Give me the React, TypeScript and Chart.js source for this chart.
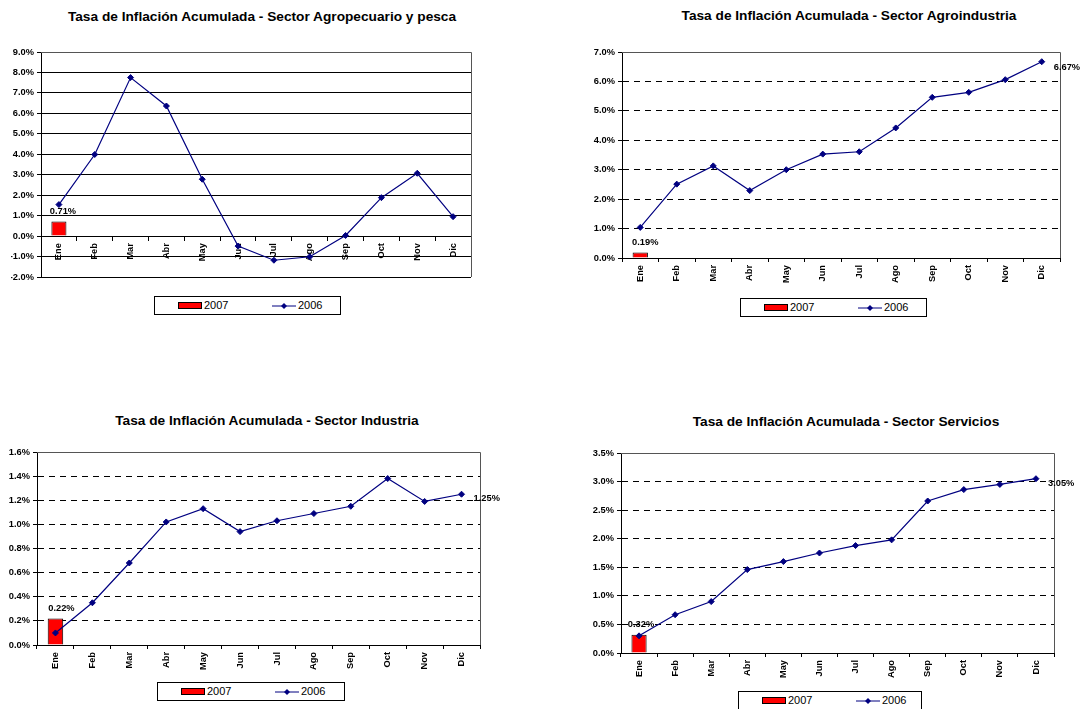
import React, { useEffect, useRef } from "react";
import { Chart, registerables } from "chart.js";

Chart.register(...registerables);

// ---------- data ----------
const months = ["Ene", "Feb", "Mar", "Abr", "May", "Jun", "Jul", "Ago", "Sep", "Oct", "Nov", "Dic"];
const seriesNames = ["2007", "2006"];

const agroTitle = "Tasa de Inflación Acumulada - Sector Agropecuario y pesca";
const agro2006 = [1.54, 3.99, 7.75, 6.36, 2.78, -0.49, -1.18, -1.01, 0.03, 1.88, 3.07, 0.95];
const agro2007 = [0.71];
const agroTicks = { min: -2, max: 9, step: 1 };

const agroindTitle = "Tasa de Inflación Acumulada - Sector Agroindustria";
const agroind2006 = [1.04, 2.51, 3.13, 2.29, 3.0, 3.53, 3.61, 4.42, 5.46, 5.63, 6.06, 6.67];
const agroind2007 = [0.19];
const agroindTicks = { min: 0, max: 7, step: 1 };

const indTitle = "Tasa de Inflación Acumulada - Sector Industria";
const ind2006 = [0.1, 0.35, 0.68, 1.02, 1.13, 0.94, 1.03, 1.09, 1.15, 1.38, 1.19, 1.25];
const ind2007 = [0.22];
const indTicks = { min: 0, max: 1.6, step: 0.2 };

const servTitle = "Tasa de Inflación Acumulada - Sector Servicios";
const serv2006 = [0.3, 0.67, 0.9, 1.46, 1.6, 1.75, 1.88, 1.98, 2.66, 2.86, 2.95, 3.05];
const serv2007 = [0.32];
const servTicks = { min: 0, max: 3.5, step: 0.5 };

// ---------- layout / style ----------
const FONT = "'Liberation Sans', Arial, Helvetica, sans-serif";
const NAVY = "#000080";
const RED = "#FF0000";

type Rect = { left: number; top: number; width: number; height: number };
type Area = { left: number; top: number; right: number; bottom: number };
type PanelCfg = {
  title: string;
  s2006: number[];
  s2007: number[];
  ticks: { min: number; max: number; step: number };
  zeroAxis: boolean;
  dashed: boolean;
  showLast: boolean;
  barDx: number;
  lastDx: number;
  lastDy: number;
  canvas: Rect;
  area: Area;
  titleX: number;
  titleTop: number;
  legend: Rect;
};

const panels: PanelCfg[] = [
  {
    title: agroTitle, s2006: agro2006, s2007: agro2007, ticks: agroTicks,
    zeroAxis: true, dashed: false, showLast: false, barDx: 4, lastDx: 0, lastDy: 0,
    canvas: { left: 0, top: 30, width: 540, height: 262 },
    area: { left: 41, top: 52, right: 471, bottom: 277 },
    titleX: 262, titleTop: 9,
    legend: { left: 154, top: 296, width: 187, height: 19 },
  },
  {
    title: agroindTitle, s2006: agroind2006, s2007: agroind2007, ticks: agroindTicks,
    zeroAxis: false, dashed: true, showLast: true, barDx: 5, lastDx: 12, lastDy: 6,
    canvas: { left: 560, top: 30, width: 521, height: 262 },
    area: { left: 622, top: 52, right: 1060, bottom: 258 },
    titleX: 849, titleTop: 8,
    legend: { left: 740, top: 298, width: 187, height: 19 },
  },
  {
    title: indTitle, s2006: ind2006, s2007: ind2007, ticks: indTicks,
    zeroAxis: false, dashed: true, showLast: true, barDx: 6, lastDx: 12, lastDy: 4,
    canvas: { left: 0, top: 430, width: 540, height: 250 },
    area: { left: 37, top: 452, right: 480, bottom: 645 },
    titleX: 267, titleTop: 413,
    legend: { left: 157, top: 682, width: 188, height: 19 },
  },
  {
    title: servTitle, s2006: serv2006, s2007: serv2007, ticks: servTicks,
    zeroAxis: false, dashed: true, showLast: true, barDx: 2, lastDx: 12, lastDy: 5,
    canvas: { left: 560, top: 430, width: 521, height: 258 },
    area: { left: 621, top: 453, right: 1054, bottom: 653 },
    titleX: 846, titleTop: 414,
    legend: { left: 738, top: 691, width: 184, height: 19 },
  },
];

const Y_W = 30;
const X_H = 32;

const labelPlugin = {
  id: "valueLabels",
  afterDatasetsDraw(chart: any, _args: any, opts: any) {
    const ctx = chart.ctx as CanvasRenderingContext2D;
    const a = chart.chartArea;
    ctx.save();
    // plot-area frame (top & right)
    ctx.strokeStyle = "#555";
    ctx.lineWidth = 1;
    ctx.setLineDash([]);
    ctx.beginPath();
    ctx.moveTo(a.left, Math.round(a.top) + 0.5);
    ctx.lineTo(Math.round(a.right) + 0.5, Math.round(a.top) + 0.5);
    ctx.lineTo(Math.round(a.right) + 0.5, a.bottom);
    ctx.stroke();

    ctx.font = `bold 9.3px ${FONT}`;
    ctx.fillStyle = "#000";
    const barMeta = chart.getDatasetMeta(1);
    const barVals = chart.data.datasets[1].data;
    barMeta.data.forEach((el: any, i: number) => {
      const v = barVals[i];
      if (v === null || v === undefined) return;
      ctx.textAlign = "center";
      ctx.textBaseline = "middle";
      ctx.fillText(Number(v).toFixed(2) + "%", el.x + opts.barDx, el.y - 10);
    });
    if (opts.showLast) {
      const lm = chart.getDatasetMeta(0);
      const vals = chart.data.datasets[0].data;
      const i = vals.length - 1;
      const p = lm.data[i];
      ctx.textAlign = "left";
      ctx.textBaseline = "middle";
      ctx.fillText(Number(vals[i]).toFixed(2) + "%", p.x + opts.lastDx, p.y + opts.lastDy);
    }
    ctx.restore();
  },
};

function ChartPanel({ cfg }: { cfg: PanelCfg }) {
  const ref = useRef<HTMLCanvasElement>(null);
  useEffect(() => {
    const c = cfg.canvas;
    const a = cfg.area;
    const padding = {
      left: a.left - c.left - Y_W,
      top: a.top - c.top,
      right: c.left + c.width - a.right,
      bottom: c.top + c.height - a.bottom - (cfg.zeroAxis ? 0 : X_H),
    };
    const barData = months.map((_, i) => (i < cfg.s2007.length ? cfg.s2007[i] : null));
    const tickFont = { family: FONT, size: 9.3, weight: "bold" as const };
    const chart = new Chart(ref.current as HTMLCanvasElement, {
      type: "bar",
      data: {
        labels: months,
        datasets: [
          {
            type: "line" as const,
            label: seriesNames[1],
            data: cfg.s2006,
            borderColor: NAVY,
            backgroundColor: NAVY,
            borderWidth: 1.2,
            pointStyle: "rectRot",
            pointRadius: 3,
            pointBackgroundColor: NAVY,
            pointBorderColor: NAVY,
            pointBorderWidth: 1,
            tension: 0,
            order: 0,
          } as any,
          {
            type: "bar" as const,
            label: seriesNames[0],
            data: barData,
            backgroundColor: RED,
            borderColor: "#000",
            borderWidth: 1,
            barPercentage: 0.42,
            categoryPercentage: 1,
            order: 1,
          } as any,
        ],
      },
      options: {
        responsive: false,
        animation: false,
        events: [],
        layout: { padding },
        plugins: {
          legend: { display: false },
          title: { display: false },
          tooltip: { enabled: false },
          valueLabels: {
            barDx: cfg.barDx,
            showLast: cfg.showLast,
            lastDx: cfg.lastDx,
            lastDy: cfg.lastDy,
          },
        } as any,
        scales: {
          x: {
            position: (cfg.zeroAxis ? { y: 0 } : "bottom") as any,
            offset: true,
            grid: {
              offset: true,
              drawOnChartArea: false,
              drawTicks: true,
              tickLength: 4,
              color: "#000",
              tickColor: "#000",
            },
            border: { color: "#000", width: 1 },
            ticks: {
              minRotation: 90,
              maxRotation: 90,
              autoSkip: false,
              color: "#000",
              font: tickFont,
              padding: 3,
            },
            afterFit: (s: any) => {
              s.height = X_H;
            },
          } as any,
          y: {
            min: cfg.ticks.min,
            max: cfg.ticks.max,
            ticks: {
              stepSize: cfg.ticks.step,
              color: "#000",
              font: tickFont,
              padding: 3,
              callback: (v: any) => Number(v).toFixed(1) + "%",
            },
            grid: {
              color: "#000",
              lineWidth: 1,
              drawTicks: true,
              tickLength: 4,
              tickColor: "#000",
            },
            border: { color: "#000", width: 1, dash: cfg.dashed ? [6, 5] : [] },
            afterFit: (s: any) => {
              s.width = Y_W;
            },
          } as any,
        },
      },
      plugins: [labelPlugin],
    });
    return () => chart.destroy();
  }, [cfg]);

  const c = cfg.canvas;
  return (
    <canvas
      ref={ref}
      width={c.width}
      height={c.height}
      style={{ position: "absolute", left: c.left, top: c.top, width: c.width, height: c.height }}
    />
  );
}

function Legend({ r }: { r: Rect }) {
  const inner = r.height - 2;
  return (
    <div
      style={{
        position: "absolute",
        left: r.left,
        top: r.top,
        width: r.width,
        height: r.height,
        boxSizing: "border-box",
        border: "1px solid #000",
        background: "#fff",
        font: `11px ${FONT}`,
        color: "#000",
      }}
    >
      <div
        style={{
          position: "absolute",
          left: 23,
          top: Math.round(inner / 2 - 3.5),
          width: 24,
          height: 7,
          boxSizing: "border-box",
          background: RED,
          border: "1px solid #000",
        }}
      />
      <span style={{ position: "absolute", left: 49, top: 0, lineHeight: `${inner}px` }}>{seriesNames[0]}</span>
      <svg
        width={24}
        height={8}
        style={{ position: "absolute", left: 117, top: Math.round(inner / 2 - 4) }}
      >
        <line x1={0} y1={4} x2={24} y2={4} stroke={NAVY} strokeWidth={1} />
        <polygon points="12,1 15,4 12,7 9,4" fill={NAVY} />
      </svg>
      <span style={{ position: "absolute", left: 143, top: 0, lineHeight: `${inner}px` }}>{seriesNames[1]}</span>
    </div>
  );
}

export default function App() {
  return (
    <div
      style={{
        position: "absolute",
        left: 0,
        top: 0,
        width: 1081,
        height: 709,
        overflow: "hidden",
        background: "#fff",
      }}
    >
      {panels.map((p, i) => (
        <React.Fragment key={i}>
          <div
            style={{
              position: "absolute",
              left: p.titleX - 300,
              width: 600,
              top: p.titleTop,
              textAlign: "center",
              font: `bold 13.7px ${FONT}`,
              lineHeight: "16px",
              whiteSpace: "nowrap",
              color: "#000",
            }}
          >
            {p.title}
          </div>
          <ChartPanel cfg={p} />
          <Legend r={p.legend} />
        </React.Fragment>
      ))}
    </div>
  );
}
